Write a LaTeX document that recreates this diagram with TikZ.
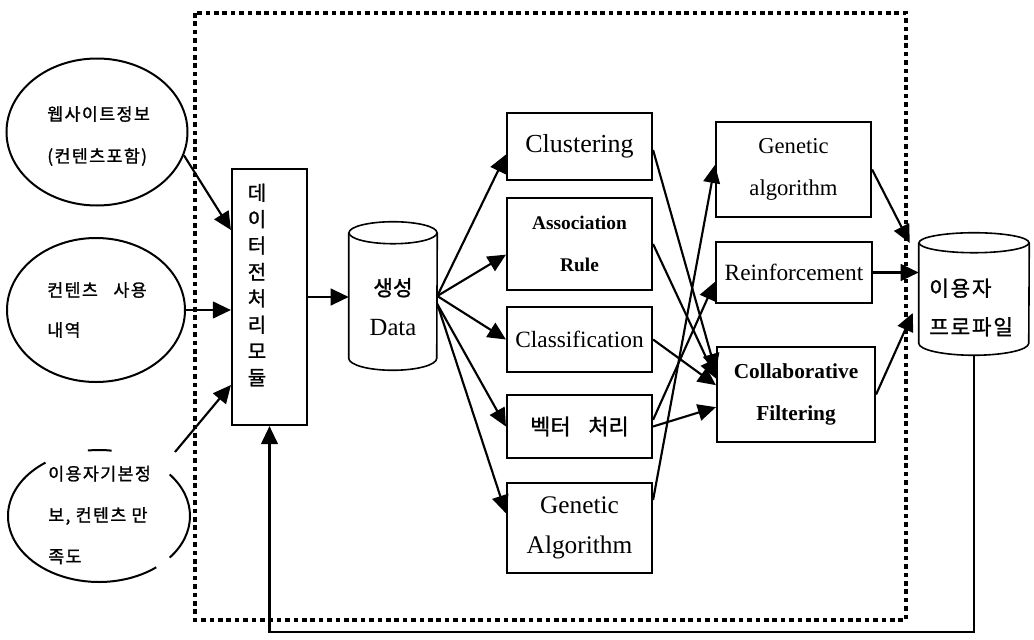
\documentclass[tikz,border=0pt]{standalone}
\usepackage{fontspec}
\setmainfont{Liberation Serif}
\newfontfamily\kr{Noto Sans CJK KR}[FakeBold=1.2]
\newfontfamily\krs{Noto Sans CJK KR}[FakeBold=1.2,LetterSpace=8]
\usetikzlibrary{arrows.meta,shapes.geometric,calc}
\begin{document}
\begin{tikzpicture}[x=0.75pt,y=0.75pt,
  box/.style={draw,line width=1.6pt,rectangle,inner sep=0pt,align=center},
  oval/.style={draw,line width=1.5pt,ellipse,inner sep=0pt},
  arr/.style={line width=1.6pt,-{Triangle[length=13.5pt,width=12.5pt]}},
  cylline/.style={line width=1.2pt},
  dotframe/.style={line width=3.2pt,dash pattern=on 3.4pt off 2.9pt},
  lbl/.style={inner sep=0pt,align=left,anchor=west}]
\useasboundingbox (0,0) rectangle (1034,-639);

% dotted frame
\draw[dotframe] (195,-13) rectangle (906,-620);

% input ellipses
\node[oval,minimum width=135.75pt,minimum height=110.25pt] (e1) at (97,-132) {};
\node[lbl,font=\krs\fontsize{13pt}{31.5pt}\selectfont] (t1) at (47,-136) {웹사이트정보\\(컨텐츠포함)};
\node[oval,minimum width=133.5pt,minimum height=108pt] (e2) at (96,-310) {};
\node[lbl,font=\krs\fontsize{13pt}{30pt}\selectfont] (t2) at (47,-310) {컨텐츠\hspace{0.9em}사용\\내역};
\node[ellipse,inner sep=0pt,minimum width=136.5pt,minimum height=99pt] (e3) at (99,-516) {};
\draw[line width=1.5pt] (111.66,-450.64) arc[start angle=82,end angle=97,x radius=91,y radius=66];
\draw[line width=1.5pt] (45.51,-462.6) arc[start angle=126,end angle=309,x radius=91,y radius=66];
\draw[line width=1.5pt] (169.72,-557.54) arc[start angle=-39,end angle=39,x radius=91,y radius=66];
\node[lbl,font=\krs\fontsize{13pt}{31pt}\selectfont] (t3) at (48,-515) {이용자기본정\\보, 컨텐츠 만\\족도};

% preprocessing module
\node[box,minimum width=56.25pt,minimum height=192pt] (pre) at (269.5,-297) {};
\node[inner sep=0pt,align=center,font=\kr\fontsize{15pt}{19.8pt}\selectfont] (pret) at (257,-285) {데\\이\\터\\전\\처\\리\\모\\듈};

% data cylinder
\node[inner sep=0pt,minimum width=66pt,minimum height=111pt] (cyl1) at (393,-296) {};
\draw[cylline] ([yshift=-8.25pt]cyl1.north west) -- ([yshift=9pt]cyl1.south west)
  arc[start angle=180,end angle=360,x radius=33pt,y radius=9pt] -- ([yshift=-8.25pt]cyl1.north east);
\draw[cylline] ([yshift=-8.25pt]cyl1.north) ellipse[x radius=33pt,y radius=8.25pt];
\node[align=center,inner sep=0pt,font=\fontsize{18.5pt}{30pt}\selectfont] (cyl1t) at (393,-307) {{\kr\fontsize{16pt}{30pt}\selectfont 생성}\\Data};

% middle column
\node[box,minimum width=108.75pt,minimum height=50.25pt,font=\fontsize{19.5pt}{24pt}\selectfont] (clus) at (579.5,-146.5) {Clustering};
\node[box,minimum width=108.75pt,minimum height=69pt,font=\bfseries\fontsize{14.5pt}{31.5pt}\selectfont] (assoc) at (579.5,-244) {Association\\Rule};
\node[box,minimum width=108.75pt,minimum height=48.75pt,font=\fontsize{17.5pt}{21pt}\selectfont] (class) at (579.5,-339.5) {Classification};
\node[box,minimum width=108.75pt,minimum height=47.25pt,font=\kr\fontsize{16.5pt}{20pt}\selectfont] (vec) at (579.5,-426.5) {벡터\hspace{0.8em}처리};
\node[box,minimum width=108.75pt,minimum height=67.5pt,font=\fontsize{19pt}{30pt}\selectfont] (ga1) at (579.5,-528) {Genetic\\Algorithm};

% right column
\node[box,minimum width=116.25pt,minimum height=71.25pt,font=\fontsize{17pt}{31pt}\selectfont] (ga2) at (793.5,-169.5) {Genetic\\algorithm};
\node[box,minimum width=117pt,minimum height=45.75pt,font=\fontsize{17.5pt}{21pt}\selectfont] (rein) at (794,-272.5) {Reinforcement};
\node[box,minimum width=118.5pt,minimum height=71.25pt,font=\bfseries\fontsize{16pt}{31pt}\selectfont] (cf) at (796,-394.5) {Collaborative\\Filtering};

% user profile cylinder
\node[inner sep=0pt,minimum width=82.5pt,minimum height=91.5pt] (cyl2) at (974,-294) {};
\draw[cylline] ([yshift=-7.5pt]cyl2.north west) -- ([yshift=9pt]cyl2.south west)
  arc[start angle=180,end angle=360,x radius=41.25pt,y radius=9pt] -- ([yshift=-7.5pt]cyl2.north east);
\draw[cylline] ([yshift=-7.5pt]cyl2.north) ellipse[x radius=41.25pt,y radius=7.5pt];
\node[lbl,font=\krs\fontsize{16pt}{29pt}\selectfont] (cyl2t) at (929,-307.5) {이용자\\프로파일};

% inputs to preprocessing
\draw[arr] (e1.-15) -- ([yshift=50.25pt]pre.west);
\draw[arr] (e2.east) -- (e2.east -| pre.west);
\coordinate (e3out) at (175,-452);
\draw[arr] (e3out) -- ([yshift=-66pt]pre.west);
\draw[arr] (pre.east) -- (pre.east -| cyl1.west);

% data to methods
\draw[arr] (cyl1.east) -- ([yshift=-6pt]clus.west);
\draw[arr] (cyl1.east) -- ([yshift=-8pt]assoc.west);
\draw[arr] (cyl1.east) -- (class.west);
\draw[arr] ([yshift=-6pt]cyl1.east) -- (vec.west);
\draw[arr] ([yshift=-6pt]cyl1.east) -- ([yshift=11pt]ga1.west);

% methods to recommenders
\draw[arr] ([yshift=-2.6pt]clus.east) -- ([yshift=17pt]cf.west);
\draw[arr] (assoc.east) -- ([yshift=12pt]cf.west);
\draw[arr] (class.east) -- ([yshift=7pt]cf.west);
\draw[arr] (vec.east) -- ([yshift=-9.5pt]cf.west);
\draw[arr] ([yshift=5pt]vec.east) -- ([yshift=-7pt]rein.west);
\draw[arr] ([yshift=21pt]ga1.east) -- ([yshift=3.4pt]ga2.west);

% recommenders to profile
\draw[arr] (ga2.east) -- ([xshift=-6.75pt,yshift=38.25pt]cyl2.west);
\draw[arr] (rein.east) -- (rein.east -| cyl2.west);
\draw[arr] (cf.east) -- ([xshift=-4.5pt,yshift=-14.25pt]cyl2.west);

% feedback
\coordinate (fb) at (600,-632);
\draw[arr] (cyl2.south) |- (fb) -| (pre.south);
\end{tikzpicture}
\end{document}
